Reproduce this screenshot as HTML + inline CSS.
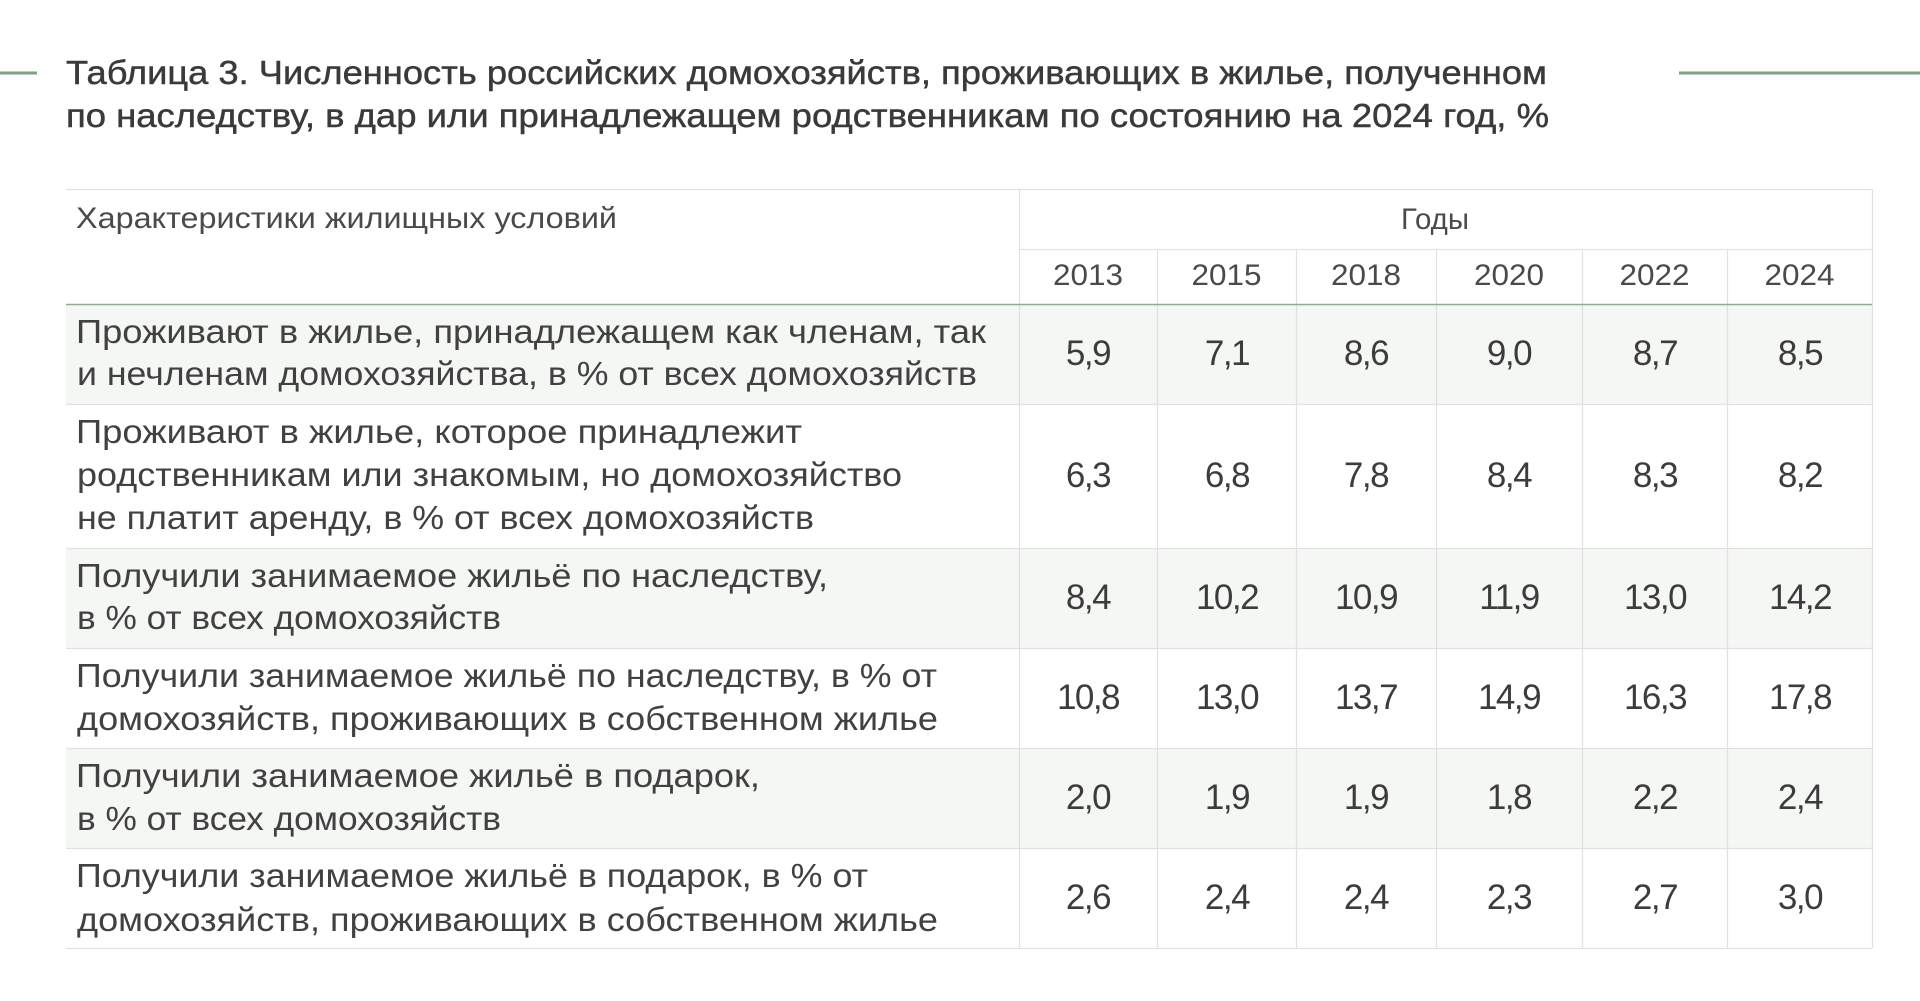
<!DOCTYPE html>
<html lang="ru">
<head>
<meta charset="utf-8">
<style>
  html,body{margin:0;padding:0;background:#ffffff;}
  body{width:1920px;height:1001px;overflow:hidden;}
  svg{display:block;}
  .t{font-family:"Liberation Sans","Noto Sans CJK SC",sans-serif;}
  .title{font-size:33px;fill:#3a3a3a;stroke:#3a3a3a;stroke-width:0.45px;}
  .hdr{font-size:30px;fill:#4a4a4a;}
  .body{font-size:33px;fill:#414141;}
  .num{font-size:35px;fill:#3c3c3c;letter-spacing:-1.5px;}
</style>
</head>
<body>
<svg width="1920" height="1001" viewBox="0 0 1920 1001" xmlns="http://www.w3.org/2000/svg">
  <rect x="0" y="0" width="1920" height="1001" fill="#ffffff"/>

  <!-- decorative green bars -->
  <rect x="0" y="71.5" width="37" height="3" fill="#7ba67d"/>
  <rect x="1679" y="71.5" width="241" height="3" fill="#7ba67d"/>

  <!-- title -->
  <text class="t title" x="66" y="84" textLength="1481" lengthAdjust="spacingAndGlyphs">Таблица 3. Численность российских домохозяйств, проживающих в жилье, полученном</text>
  <text class="t title" x="66" y="127" textLength="1483" lengthAdjust="spacingAndGlyphs">по наследству, в дар или принадлежащем родственникам по состоянию на 2024 год, %</text>

  <!-- shaded rows -->
  <rect x="66" y="304" width="1806" height="100" fill="#f5f7f4"/>
  <rect x="66" y="548" width="1806" height="100" fill="#f5f7f4"/>
  <rect x="66" y="748" width="1806" height="100" fill="#f5f7f4"/>

  <!-- grid lines -->
  <g stroke="#e1e1e1" stroke-width="1.2" fill="none">
    <line x1="66" y1="189.5" x2="1872" y2="189.5"/>
    <line x1="1019" y1="249.5" x2="1872" y2="249.5"/>
    <line x1="66" y1="404.5" x2="1872" y2="404.5"/>
    <line x1="66" y1="548.5" x2="1872" y2="548.5"/>
    <line x1="66" y1="648.5" x2="1872" y2="648.5"/>
    <line x1="66" y1="748.5" x2="1872" y2="748.5"/>
    <line x1="66" y1="848.5" x2="1872" y2="848.5"/>
    <line x1="66" y1="948.5" x2="1872" y2="948.5"/>
    <line x1="1019.5" y1="189" x2="1019.5" y2="948"/>
    <line x1="1157.5" y1="249" x2="1157.5" y2="948"/>
    <line x1="1296.5" y1="249" x2="1296.5" y2="948"/>
    <line x1="1436.5" y1="249" x2="1436.5" y2="948"/>
    <line x1="1582.5" y1="249" x2="1582.5" y2="948"/>
    <line x1="1727.5" y1="249" x2="1727.5" y2="948"/>
    <line x1="1872.5" y1="189" x2="1872.5" y2="948"/>
  </g>
  <!-- header bottom green line -->
  <line x1="66" y1="304.5" x2="1872" y2="304.5" stroke="#86b088" stroke-width="1.6"/>

  <!-- header text -->
  <text class="t hdr" x="76" y="228" textLength="541" lengthAdjust="spacingAndGlyphs">Характеристики жилищных условий</text>
  <text class="t hdr" x="1401" y="229" textLength="68" lengthAdjust="spacingAndGlyphs">Годы</text>
  <text class="t hdr" x="1053" y="285" textLength="70" lengthAdjust="spacingAndGlyphs">2013</text>
  <text class="t hdr" x="1191.5" y="285" textLength="70" lengthAdjust="spacingAndGlyphs">2015</text>
  <text class="t hdr" x="1331" y="285" textLength="70" lengthAdjust="spacingAndGlyphs">2018</text>
  <text class="t hdr" x="1474" y="285" textLength="70" lengthAdjust="spacingAndGlyphs">2020</text>
  <text class="t hdr" x="1619.5" y="285" textLength="70" lengthAdjust="spacingAndGlyphs">2022</text>
  <text class="t hdr" x="1764.5" y="285" textLength="70" lengthAdjust="spacingAndGlyphs">2024</text>

  <!-- row labels -->
  <g class="t body">
    <text x="76" y="343" textLength="910" lengthAdjust="spacingAndGlyphs">Проживают в жилье, принадлежащем как членам, так</text>
    <text x="77" y="385" textLength="900" lengthAdjust="spacingAndGlyphs">и нечленам домохозяйства, в % от всех домохозяйств</text>

    <text x="76" y="443" textLength="726" lengthAdjust="spacingAndGlyphs">Проживают в жилье, которое принадлежит</text>
    <text x="77" y="486" textLength="825" lengthAdjust="spacingAndGlyphs">родственникам или знакомым, но домохозяйство</text>
    <text x="77" y="529" textLength="737" lengthAdjust="spacingAndGlyphs">не платит аренду, в % от всех домохозяйств</text>

    <text x="76" y="587" textLength="752" lengthAdjust="spacingAndGlyphs">Получили занимаемое жильё по наследству,</text>
    <text x="77" y="629" textLength="424" lengthAdjust="spacingAndGlyphs">в % от всех домохозяйств</text>

    <text x="76" y="687" textLength="861" lengthAdjust="spacingAndGlyphs">Получили занимаемое жильё по наследству, в % от</text>
    <text x="77" y="730" textLength="861" lengthAdjust="spacingAndGlyphs">домохозяйств, проживающих в собственном жилье</text>

    <text x="76" y="787" textLength="684" lengthAdjust="spacingAndGlyphs">Получили занимаемое жильё в подарок,</text>
    <text x="77" y="830" textLength="424" lengthAdjust="spacingAndGlyphs">в % от всех домохозяйств</text>

    <text x="76" y="887" textLength="792" lengthAdjust="spacingAndGlyphs">Получили занимаемое жильё в подарок, в % от</text>
    <text x="77" y="931" textLength="861" lengthAdjust="spacingAndGlyphs">домохозяйств, проживающих в собственном жилье</text>
  </g>

  <!-- numbers -->
  <g class="t num" text-anchor="middle">
    <text x="1088" y="365">5,9</text>
    <text x="1227" y="365">7,1</text>
    <text x="1366" y="365">8,6</text>
    <text x="1509" y="365">9,0</text>
    <text x="1655" y="365">8,7</text>
    <text x="1800" y="365">8,5</text>

    <text x="1088" y="487">6,3</text>
    <text x="1227" y="487">6,8</text>
    <text x="1366" y="487">7,8</text>
    <text x="1509" y="487">8,4</text>
    <text x="1655" y="487">8,3</text>
    <text x="1800" y="487">8,2</text>

    <text x="1088" y="609">8,4</text>
    <text x="1227" y="609">10,2</text>
    <text x="1366" y="609">10,9</text>
    <text x="1509" y="609">11,9</text>
    <text x="1655" y="609">13,0</text>
    <text x="1800" y="609">14,2</text>

    <text x="1088" y="709">10,8</text>
    <text x="1227" y="709">13,0</text>
    <text x="1366" y="709">13,7</text>
    <text x="1509" y="709">14,9</text>
    <text x="1655" y="709">16,3</text>
    <text x="1800" y="709">17,8</text>

    <text x="1088" y="809">2,0</text>
    <text x="1227" y="809">1,9</text>
    <text x="1366" y="809">1,9</text>
    <text x="1509" y="809">1,8</text>
    <text x="1655" y="809">2,2</text>
    <text x="1800" y="809">2,4</text>

    <text x="1088" y="909">2,6</text>
    <text x="1227" y="909">2,4</text>
    <text x="1366" y="909">2,4</text>
    <text x="1509" y="909">2,3</text>
    <text x="1655" y="909">2,7</text>
    <text x="1800" y="909">3,0</text>
  </g>
</svg>
</body>
</html>
